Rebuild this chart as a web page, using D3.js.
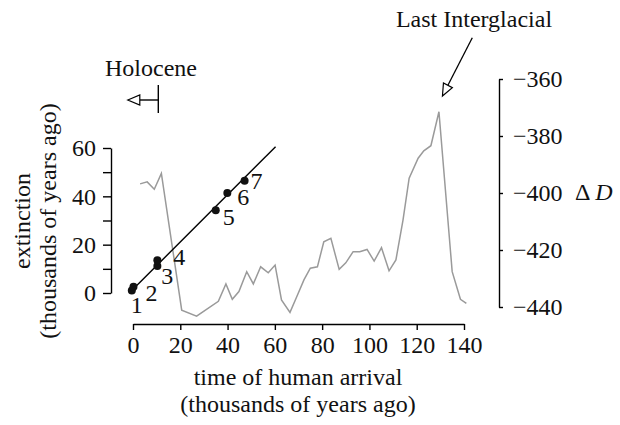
<!DOCTYPE html>
<html><head><meta charset="utf-8">
<script src="https://cdn.jsdelivr.net/npm/d3@7"></script>
<style>
html,body{margin:0;padding:0;background:#fff;}
text{font-family:"Liberation Serif","Times New Roman",serif;fill:#111;}
</style></head>
<body>
<svg id="chart" width="620" height="425"></svg>
<script>
// climate record (ΔD) vs age (ky)
const climAge = [3,6,9,12,20.6,26.9,29.7,36.1,39.3,42,44.8,48.1,50.9,54,57.2,60.1,62.8,66.4,69.3,72.3,75,78,80.7,83.7,87.2,90,93.1,95.9,99,102,105.1,108.3,111.2,114.2,116.8,120.6,123,126,129.4,135,138.5,141];
const climDD = [-396.8,-396.1,-398.7,-393.1,-441.1,-443.2,-441.6,-438,-431.9,-437.3,-434.6,-427.6,-431.9,-425.9,-428,-425.3,-437.5,-441.9,-436.3,-430.5,-426.4,-425.9,-417.1,-415.9,-426.8,-424.5,-420.6,-420.6,-419.8,-423.9,-419.2,-427.3,-423.5,-409.5,-394.8,-387.8,-385.2,-383.4,-371.5,-427.6,-437.3,-438.7];
// scatter: human arrival vs extinction (ky ago)
const arrival = [-0.5,0.2,10.3,10.3,35,39.9,47.2];
const extinction = [1,2.6,11.2,13.6,34.2,41.4,46.4];
const pointLabels = ["1","2","3","4","5","6","7"];
// fitted line endpoints
const fitX = [-1.6,60.3];
const fitY = [0,60.5];
// ticks
const xTicks = [0,20,40,60,80,100,120,140];
const yLeftTicks = [0,10,20,30,40,50,60];
const yLeftLabels = [0,20,40,60];
const yRightTicks = [-440,-420,-400,-380,-360];
const holoceneAge = 10.7;
const lastInterglacialAge = 129.4;

// label offsets (px) – styling only
const labelOff = [[5,22],[18,14],[10,18],[22,5],[13,15],[16,12],[12,8]];

const svg = d3.select("#chart");
const x = d3.scaleLinear().domain([0,140]).range([133,464]);
const yL = d3.scaleLinear().domain([0,60]).range([293,148]);
const yR = d3.scaleLinear().domain([-440,-360]).range([307,79]);
const FS = 24;

// gray climate line
const clim = climAge.map((a,i)=>[a,climDD[i]]);
svg.append("path").datum(clim)
  .attr("d", d3.line().x(d=>x(d[0])).y(d=>yR(d[1])))
  .attr("fill","none").attr("stroke","#9a9a9a").attr("stroke-width",1.5);

// fit line
svg.append("line")
  .attr("x1",x(fitX[0])).attr("y1",yL(fitY[0]))
  .attr("x2",x(fitX[1])).attr("y2",yL(fitY[1]))
  .attr("stroke","#000").attr("stroke-width",1.4);

// points
svg.selectAll("circle.pt").data(arrival).enter().append("circle")
  .attr("cx",(d)=>x(d)).attr("cy",(d,i)=>yL(extinction[i])).attr("r",4).attr("fill","#111");
svg.selectAll("text.pl").data(pointLabels).enter().append("text")
  .attr("x",(d,i)=>x(arrival[i])+labelOff[i][0])
  .attr("y",(d,i)=>yL(extinction[i])+labelOff[i][1])
  .attr("text-anchor","middle").style("font-size",FS+"px").text(d=>d);

// bottom axis
const xa = svg.append("g").attr("transform","translate(0,324)")
  .call(d3.axisBottom(x).tickValues(xTicks).tickSize(6).tickSizeOuter(0).tickPadding(6));
// left axis
const ya = svg.append("g").attr("transform","translate(111,0)")
  .call(d3.axisLeft(yL).tickValues(yLeftTicks).tickSize(8).tickSizeOuter(0).tickPadding(7)
    .tickFormat(d=> yLeftLabels.includes(d)? d : ""));
// right axis
const yra = svg.append("g").attr("transform","translate(499,0)")
  .call(d3.axisRight(yR).tickValues(yRightTicks).tickSize(4).tickSizeOuter(0).tickPadding(10)
    .tickFormat(d=> "\u2212"+Math.abs(d)));
[xa,ya,yra].forEach(g=>{
  g.selectAll("path").attr("stroke","#000").attr("stroke-width",1.4);
  g.selectAll("line").attr("stroke","#000").attr("stroke-width",1.4);
  g.selectAll("text").style("font-size",FS+"px").style("font-family",'"Liberation Serif",serif').attr("fill","#111");
});
ya.selectAll("text").attr("dy","0.33em");
yra.selectAll("text").attr("dy","0.33em");

// axis titles
svg.append("text").attr("x",298).attr("y",385).attr("text-anchor","middle").style("font-size",FS+"px").text("time of human arrival");
svg.append("text").attr("x",298).attr("y",412).attr("text-anchor","middle").style("font-size",FS+"px").text("(thousands of years ago)");
svg.append("text").attr("transform","translate(30,221) rotate(-90)").attr("text-anchor","middle").style("font-size",FS+"px").text("extinction");
svg.append("text").attr("transform","translate(56,221) rotate(-90)").attr("text-anchor","middle").style("font-size",FS+"px").text("(thousands of years ago)");
const dl = svg.append("text").attr("x",575).attr("y",200).style("font-size",FS+"px");
dl.append("tspan").text("\u0394\u2009");
dl.append("tspan").style("font-style","italic").text("D");

// Holocene annotation
const hx = x(holoceneAge);
svg.append("text").attr("x",151).attr("y",76).attr("text-anchor","middle").style("font-size",FS+"px").text("Holocene");
svg.append("line").attr("x1",hx).attr("x2",hx).attr("y1",85).attr("y2",113).attr("stroke","#000").attr("stroke-width",1.4);
svg.append("line").attr("x1",hx).attr("x2",140).attr("y1",100).attr("y2",100).attr("stroke","#000").attr("stroke-width",1.4);
svg.append("path").attr("d",`M${hx-30.5},100 L${hx-18.5},95 L${hx-18.5},105 Z`).attr("fill","#fff").attr("stroke","#000").attr("stroke-width",1.2);

// Last Interglacial annotation
svg.append("text").attr("x",474).attr("y",27).attr("text-anchor","middle").style("font-size",FS+"px").text("Last Interglacial");
const tipX = x(lastInterglacialAge)+3.5, tipY = 96;
const sx = 472.3, sy = 37.7;
const ang = Math.atan2(tipY-sy, tipX-sx);
const hl = 12, hw = 5;
const bx = tipX - hl*Math.cos(ang), by = tipY - hl*Math.sin(ang);
svg.append("line").attr("x1",sx).attr("y1",sy).attr("x2",bx).attr("y2",by).attr("stroke","#000").attr("stroke-width",1.3);
svg.append("path").attr("d",`M${tipX},${tipY} L${bx+hw*Math.sin(ang)},${by-hw*Math.cos(ang)} L${bx-hw*Math.sin(ang)},${by+hw*Math.cos(ang)} Z`)
  .attr("fill","#fff").attr("stroke","#000").attr("stroke-width",1.2);
</script>
</body></html>
